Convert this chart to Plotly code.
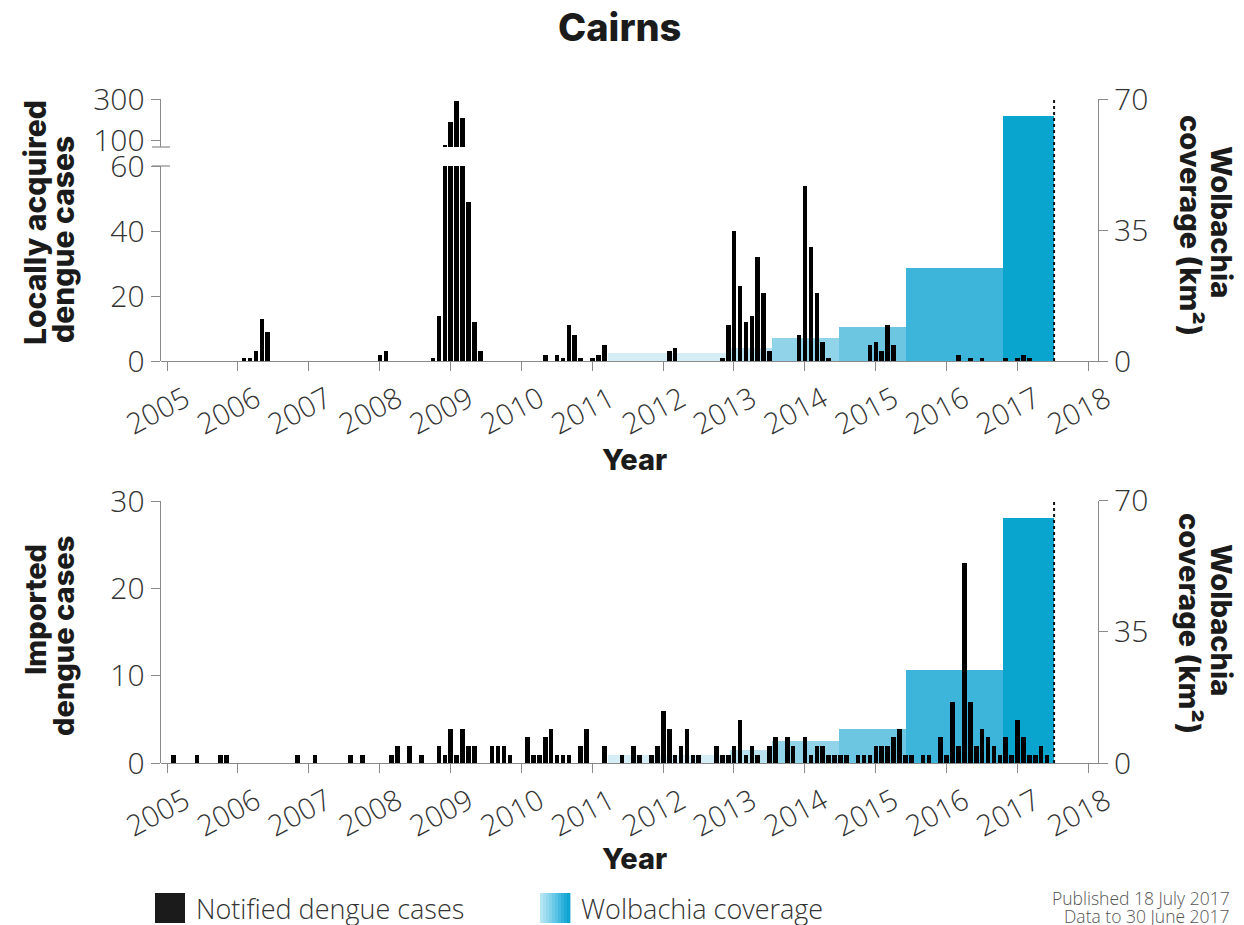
import plotly.graph_objects as go

W, H = 1244, 925

# Locally acquired dengue notifications per month
LOCAL_MONTHS = [
    "2006-02", "2006-03", "2006-04", "2006-05", "2006-06",
    "2008-01", "2008-02",
    "2008-10", "2008-11", "2008-12", "2009-01", "2009-02", "2009-03", "2009-04", "2009-05", "2009-06",
    "2010-05", "2010-07", "2010-08", "2010-09", "2010-10", "2010-11",
    "2011-01", "2011-02", "2011-03",
    "2012-02", "2012-03",
    "2012-11", "2012-12", "2013-01", "2013-02", "2013-03", "2013-04", "2013-05", "2013-06", "2013-07",
    "2013-12", "2014-01", "2014-02", "2014-03", "2014-04", "2014-05",
    "2014-12", "2015-01", "2015-02", "2015-03", "2015-04",
    "2016-03", "2016-05", "2016-07", "2016-11", "2017-01", "2017-02", "2017-03",
]
LOCAL_CASES = [
    1, 1, 3, 13, 9,
    2, 3,
    1, 14, 76, 190, 290, 206, 49, 12, 3,
    2, 2, 1, 11, 8, 1,
    1, 2, 5,
    3, 4,
    1, 11, 40, 23, 12, 14, 32, 21, 3,
    8, 54, 35, 21, 6, 1,
    5, 6, 3, 11, 5,
    2, 1, 1, 1, 1, 2, 1,
]

# Imported dengue notifications per month
IMPORTED_MONTHS = [
    "2005-02", "2005-06", "2005-10", "2005-11",
    "2006-11",
    "2007-02", "2007-08", "2007-10",
    "2008-03", "2008-04", "2008-06", "2008-08", "2008-11", "2008-12",
    "2009-01", "2009-02", "2009-03", "2009-04", "2009-05", "2009-08", "2009-09", "2009-10", "2009-11",
    "2010-02", "2010-03", "2010-04", "2010-05", "2010-06", "2010-07", "2010-08", "2010-09", "2010-11", "2010-12",
    "2011-03", "2011-06", "2011-08", "2011-09", "2011-11", "2011-12",
    "2012-01", "2012-02", "2012-03", "2012-04", "2012-05", "2012-06", "2012-07", "2012-10", "2012-11", "2012-12",
    "2013-01", "2013-02", "2013-03", "2013-04", "2013-05", "2013-07", "2013-08", "2013-10", "2013-11",
    "2014-01", "2014-02", "2014-03", "2014-04", "2014-05", "2014-06", "2014-07", "2014-08", "2014-10", "2014-11", "2014-12",
    "2015-01", "2015-02", "2015-03", "2015-04", "2015-05", "2015-06", "2015-07", "2015-09", "2015-10", "2015-12",
    "2016-01", "2016-02", "2016-03", "2016-04", "2016-05", "2016-06", "2016-07", "2016-08", "2016-09", "2016-10", "2016-11", "2016-12",
    "2017-01", "2017-02", "2017-03", "2017-04", "2017-05", "2017-06",
]
IMPORTED_CASES = [
    1, 1, 1, 1,
    1,
    1, 1, 1,
    1, 2, 2, 1, 2, 1,
    4, 1, 4, 2, 2, 2, 2, 2, 1,
    3, 1, 1, 3, 4, 1, 1, 1, 2, 4,
    2, 1, 2, 1, 1, 2,
    6, 4, 1, 2, 4, 1, 1, 2, 1, 1,
    2, 5, 1, 2, 1, 2, 3, 3, 2,
    3, 1, 2, 2, 1, 1, 1, 1, 1, 1, 1,
    2, 2, 2, 3, 4, 1, 1, 1, 1, 3,
    1, 7, 2, 23, 7, 2, 4, 3, 2, 1, 3, 1,
    5, 3, 1, 1, 2, 1,
]

# Cumulative Wolbachia release area (km²) per release stage, decimal years
WOLB_START = [2011.22, 2012.94, 2013.53, 2014.48, 2015.42, 2016.80]
WOLB_END = [2012.94, 2013.53, 2014.48, 2015.42, 2016.80, 2017.52]
WOLB_KM2 = [2.2, 3.6, 6.1, 9.2, 24.9, 65.5]
WOLB_COLORS = ["#d5eef6", "#b8e2f0", "#91d4ea", "#6cc6e2", "#3db4d9", "#0aa5cf"]
DATA_CUTOFF = 2017.52

YEARS = list(range(2005, 2019))
LOCAL_LOW_TICKS = [0, 20, 40, 60]
LOCAL_HIGH_TICKS = [100, 300]
IMPORTED_TICKS = [0, 10, 20, 30]
WOLB_TICKS = [0, 35, 70]

AXIS_GREY = "#8a8a8a"
TEXT_GREY = "#333333"
INK = "#1b1b1b"
TICK_FONT = dict(family="Open Sans", size=30, color=TEXT_GREY, weight=300)
TITLE_FONT = dict(family="Inter", size=29, color=INK, weight=800)


def month_pos(s):
    y, m = s.split("-")
    return int(y) + (int(m) - 1) / 12


def fx(p):
    return p / W


def fy(p):
    return 1 - p / H


local_x = [month_pos(m) for m in LOCAL_MONTHS]
imp_x = [month_pos(m) for m in IMPORTED_MONTHS]
wolb_x = [(a + b) / 2 for a, b in zip(WOLB_START, WOLB_END)]
wolb_w = [b - a for a, b in zip(WOLB_START, WOLB_END)]
BAR_W = 0.78 / 12

fig = go.Figure()

# ---- top panel: locally acquired cases
fig.add_trace(go.Bar(x=wolb_x, y=WOLB_KM2, width=wolb_w,
                     marker=dict(color=WOLB_COLORS, line=dict(width=0)),
                     xaxis="x", yaxis="y", hoverinfo="skip"))
fig.add_trace(go.Scatter(x=[DATA_CUTOFF, DATA_CUTOFF], y=[0, 70], mode="lines",
                         line=dict(color="#111111", width=2, dash="3px,3px"),
                         xaxis="x", yaxis="y", hoverinfo="skip"))
fig.add_trace(go.Bar(x=local_x, y=LOCAL_CASES, width=BAR_W,
                     marker=dict(color="#000000", line=dict(width=0)),
                     xaxis="x", yaxis="y2"))
fig.add_trace(go.Bar(x=local_x, y=LOCAL_CASES, width=BAR_W,
                     marker=dict(color="#000000", line=dict(width=0)),
                     xaxis="x", yaxis="y3"))

# ---- bottom panel: imported cases
fig.add_trace(go.Bar(x=wolb_x, y=WOLB_KM2, width=wolb_w,
                     marker=dict(color=WOLB_COLORS, line=dict(width=0)),
                     xaxis="x2", yaxis="y4", hoverinfo="skip"))
fig.add_trace(go.Scatter(x=[DATA_CUTOFF, DATA_CUTOFF], y=[0, 70], mode="lines",
                         line=dict(color="#111111", width=2, dash="3px,3px"),
                         xaxis="x2", yaxis="y4", hoverinfo="skip"))
fig.add_trace(go.Bar(x=imp_x, y=IMPORTED_CASES, width=BAR_W,
                     marker=dict(color="#000000", line=dict(width=0)),
                     xaxis="x2", yaxis="y5"))

x_dom = [fx(160.7), fx(1098)]
x_range = [2004.91, 2018.14]

common_x = dict(domain=x_dom, range=x_range, tickvals=YEARS, ticks="outside", ticklen=9,
                tickcolor=AXIS_GREY, showline=True, linecolor=AXIS_GREY, linewidth=1.2,
                tickangle=-28, ticklabelshift=18,
                tickfont=dict(family="Open Sans", size=29, color=TEXT_GREY, weight=300),
                showgrid=False, zeroline=False, fixedrange=True, automargin=False)
common_y = dict(ticks="outside", ticklen=9, tickcolor=AXIS_GREY, showline=True,
                linecolor=AXIS_GREY, linewidth=1.2, tickfont=TICK_FONT,
                showgrid=False, zeroline=False, fixedrange=True, automargin=False)

top_dom = [fy(361), fy(99)]
low_dom = [fy(361), fy(166)]
high_dom = [fy(147), fy(99)]
bot_dom = [fy(763), fy(500.5)]

fig.update_layout(
    width=W, height=H,
    margin=dict(l=0, r=0, t=0, b=0, pad=0, autoexpand=False),
    paper_bgcolor="white", plot_bgcolor="rgba(0,0,0,0)",
    showlegend=False, bargap=0,
    xaxis=dict(anchor="y", **common_x),
    xaxis2=dict(anchor="y4", **common_x),
    yaxis=dict(anchor="x", side="right", domain=top_dom, range=[0, 70], tickvals=WOLB_TICKS, **common_y),
    yaxis2=dict(anchor="x", side="left", domain=low_dom, range=[0, 60], tickvals=LOCAL_LOW_TICKS, **common_y),
    yaxis3=dict(anchor="x", side="left", domain=high_dom, range=[65.9, 300], tickvals=LOCAL_HIGH_TICKS, **common_y),
    yaxis4=dict(anchor="x2", side="right", domain=bot_dom, range=[0, 70], tickvals=WOLB_TICKS, **common_y),
    yaxis5=dict(anchor="x2", side="left", domain=bot_dom, range=[0, 30.1], tickvals=IMPORTED_TICKS, **common_y),
)

# axis-break markers on the split case axis
shapes = []
for yb in (166, 147):
    shapes.append(dict(type="line", xref="paper", yref="paper", x0=fx(152), x1=fx(170),
                       y0=fy(yb), y1=fy(yb), line=dict(color=AXIS_GREY, width=1.2)))

# legend swatches
shapes.append(dict(type="rect", xref="paper", yref="paper", x0=fx(155), x1=fx(185),
                   y0=fy(923), y1=fy(893), fillcolor="#1b1b1b", line=dict(width=0)))
grad = ["#b4e5f3", "#a4def1", "#93d8ee", "#80d1eb", "#6ccae8", "#58c2e4",
        "#44bae0", "#31b2dc", "#1eaad7", "#0ea4d2"]
step = 30 / len(grad)
for i, c in enumerate(grad):
    shapes.append(dict(type="rect", xref="paper", yref="paper",
                       x0=fx(540 + i * step), x1=fx(540 + (i + 1) * step + 0.4),
                       y0=fy(923), y1=fy(893), fillcolor=c, line=dict(width=0)))
fig.update_layout(shapes=shapes)


def ann(text, x, y, font, angle=0, xanchor="center", yanchor="middle"):
    fig.add_annotation(text=text, x=fx(x), y=fy(y), xref="paper", yref="paper",
                       showarrow=False, font=font, textangle=angle,
                       xanchor=xanchor, yanchor=yanchor)


ann("Cairns", 619, 27, dict(family="Inter", size=38, color=INK, weight=800))
ann("Year", 635, 459, TITLE_FONT)
ann("Year", 635, 858, TITLE_FONT)
ann("Locally acquired", 35, 223, dict(TITLE_FONT, size=30), angle=-90)
ann("dengue cases", 63, 240, dict(TITLE_FONT, size=30), angle=-90)
ann("Imported", 35, 610, TITLE_FONT, angle=-90)
ann("dengue cases", 63, 636, TITLE_FONT, angle=-90)
ann("Wolbachia", 1222, 222, TITLE_FONT, angle=90)
ann("coverage (km²)", 1190, 225, TITLE_FONT, angle=90)
ann("Wolbachia", 1222, 620, TITLE_FONT, angle=90)
ann("coverage (km²)", 1190, 623, TITLE_FONT, angle=90)

LEG_FONT = dict(family="Open Sans", size=27, color=TEXT_GREY, weight=300)
ann("Notified dengue cases", 194, 908, LEG_FONT, xanchor="left")
ann("Wolbachia coverage", 579, 908, LEG_FONT, xanchor="left")
NOTE_FONT = dict(family="Open Sans", size=17.5, color="#555555", weight=300)
ann("Published 18 July 2017", 1232, 898, NOTE_FONT, xanchor="right")
ann("Data to 30 June 2017", 1232, 916, NOTE_FONT, xanchor="right")

fig.write_html("out.html")
